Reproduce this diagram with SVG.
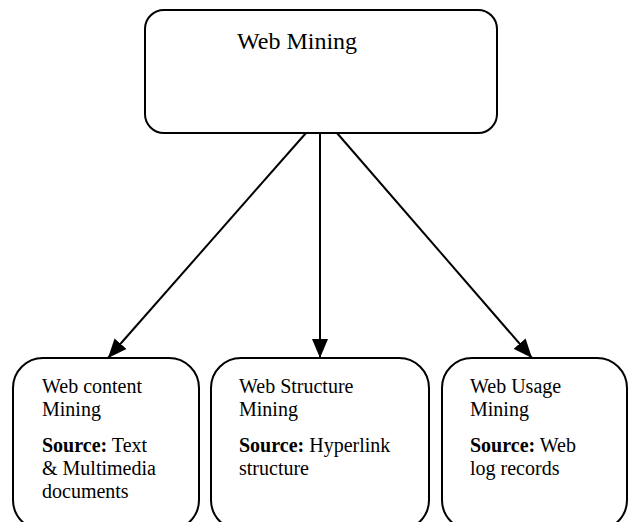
<svg xmlns="http://www.w3.org/2000/svg" width="628" height="522" viewBox="0 0 628 522">
<defs>
<marker id="ah" markerUnits="userSpaceOnUse" markerWidth="20" markerHeight="16" viewBox="0 0 20 16" refX="19" refY="8" orient="auto">
<path d="M0,0 L19,8 L0,16 Z" fill="#000"/>
</marker>
<style>
.box{fill:#fff;stroke:#000;stroke-width:2}
.t{font-family:"Liberation Serif","Times New Roman",serif;font-size:20px;fill:#000}
.big{font-size:24px}
.b{font-weight:bold}
.c{stroke:#000;stroke-width:2;fill:none;marker-end:url(#ah)}
</style>
</defs>
<rect width="628" height="522" fill="#fff"/>
<g id="connectors">
<line class="c" x1="306" y1="133" x2="108" y2="358"/>
<line class="c" x1="320" y1="133" x2="320" y2="358"/>
<line class="c" x1="337" y1="133" x2="532" y2="358"/>
</g>
<g id="web-mining">
<rect class="box" x="145" y="10" width="352" height="123" rx="19"/>
<text class="t big" x="237" y="49">Web Mining</text>
</g>
<g id="content-mining">
<rect class="box" x="13" y="358" width="186" height="172" rx="30"/>
<text class="t" x="42" y="393">Web content</text>
<text class="t" x="42" y="416">Mining</text>
<text class="t" x="42" y="452"><tspan class="b">Source:</tspan> Text</text>
<text class="t" x="42" y="475">&amp; Multimedia</text>
<text class="t" x="42" y="498">documents</text>
</g>
<g id="structure-mining">
<rect class="box" x="211" y="358" width="218" height="172" rx="30"/>
<text class="t" x="239" y="393">Web Structure</text>
<text class="t" x="239" y="416">Mining</text>
<text class="t" x="239" y="452"><tspan class="b">Source:</tspan> Hyperlink</text>
<text class="t" x="239" y="475">structure</text>
</g>
<g id="usage-mining">
<rect class="box" x="442" y="358" width="185" height="172" rx="30"/>
<text class="t" x="470" y="393">Web Usage</text>
<text class="t" x="470" y="416">Mining</text>
<text class="t" x="470" y="452"><tspan class="b">Source:</tspan> Web</text>
<text class="t" x="470" y="475">log records</text>
</g>
</svg>
